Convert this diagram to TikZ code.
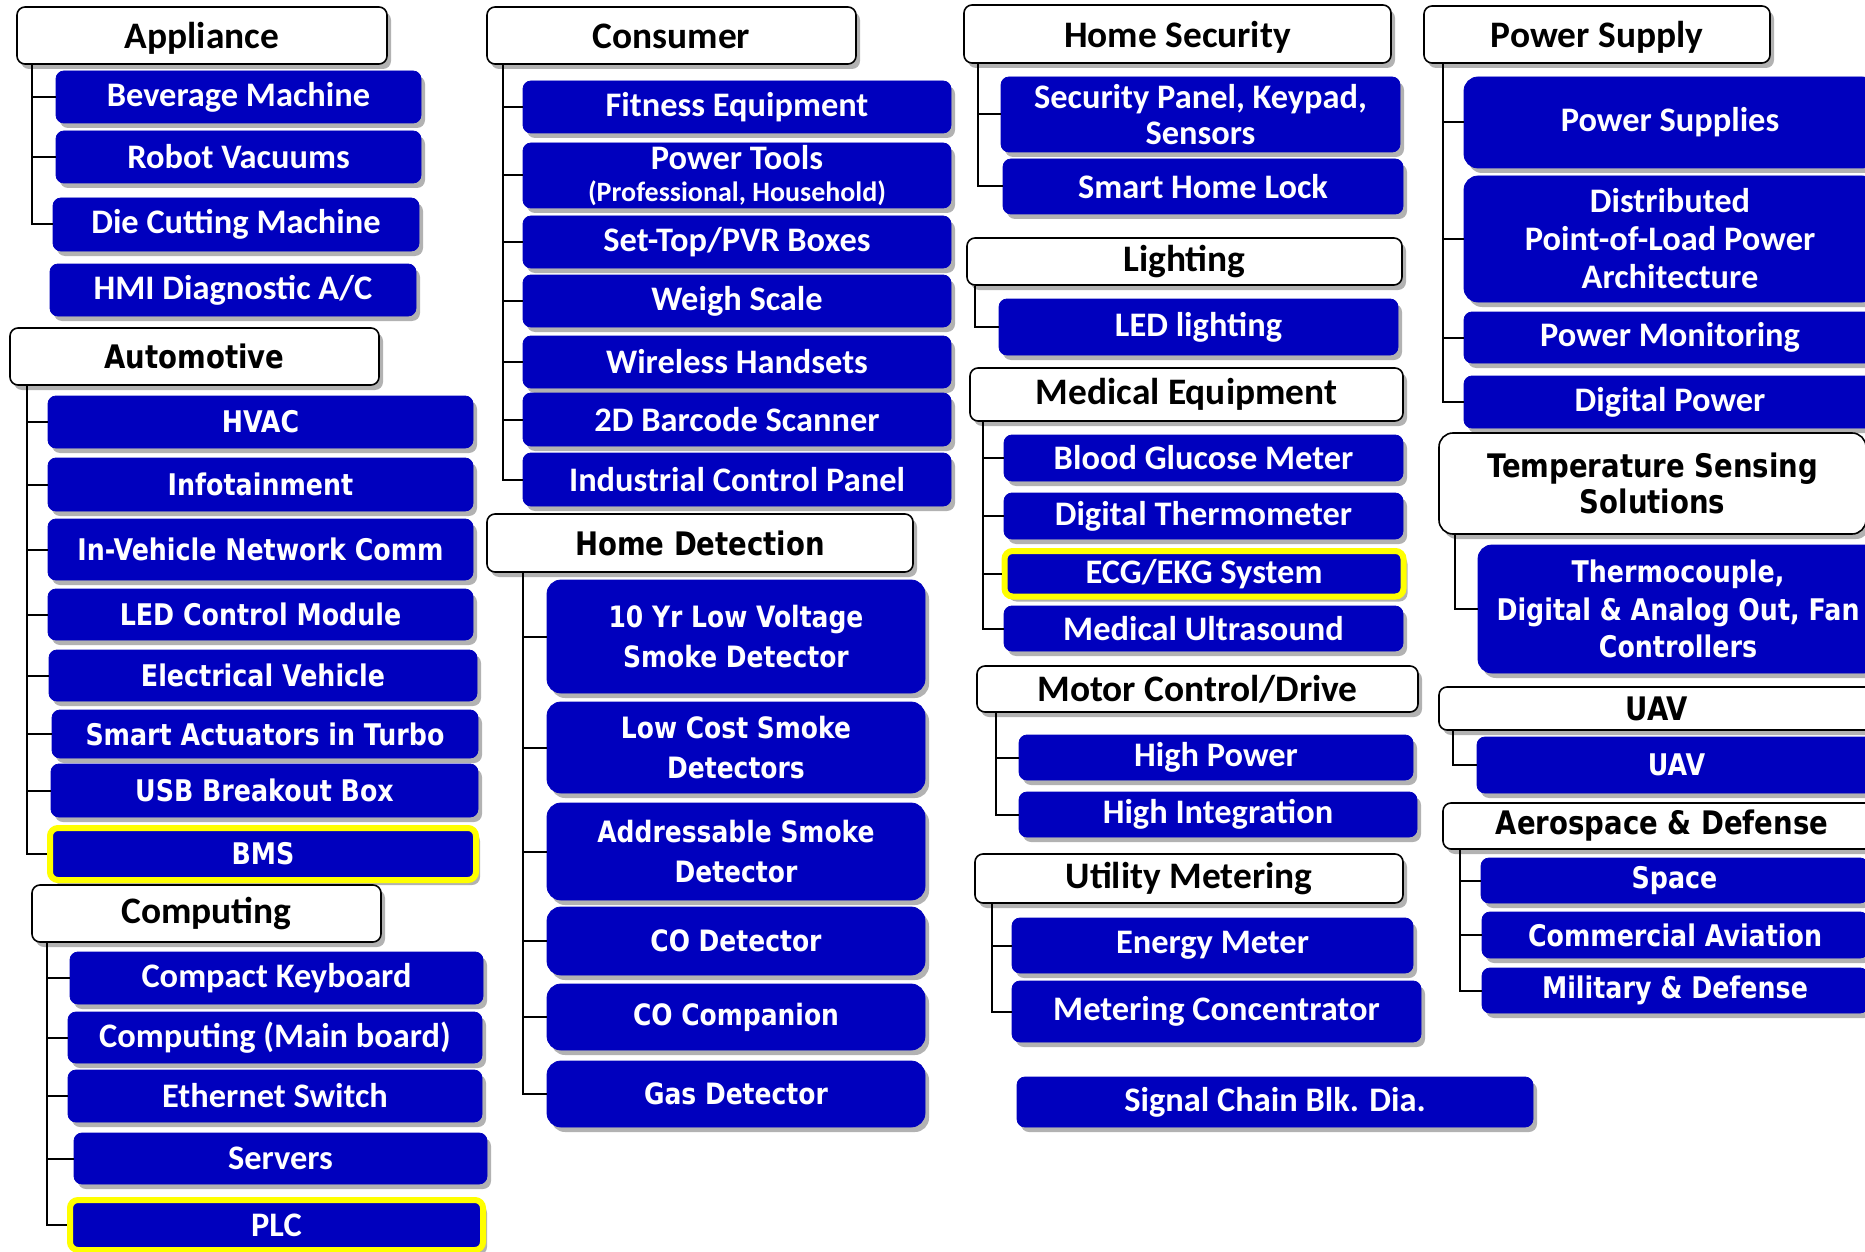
\documentclass[tikz,border=0pt]{standalone}
\usepackage{fontspec}
\setmainfont{Carlito}
\newfontfamily\wfont[FakeStretch=0.85]{DejaVu Sans}
\usepackage{tikz}
\usetikzlibrary{shadows}
\definecolor{ItemBlue}{RGB}{0,0,190}
\definecolor{MarkYellow}{RGB}{255,255,0}
\tikzset{
  slot/.style n args={4}{at={({(#1+#3)/2},{(#2+#4)/2})},
              minimum width={(#3-#1)*0.5pt}, minimum height={(#4-#2)*0.5pt}},
  shade/.style={drop shadow={shadow xshift=2pt, shadow yshift=-2.5pt, opacity=0.3, fill=black}},
  cat/.style={draw=black, line width=0.8pt, fill=white, rounded corners=4pt, inner sep=0pt,
              align=center, text=black, font=\bfseries\fontsize{18.7}{20}\selectfont, shade},
  topcat/.style={cat, text height=16.8pt, text depth=3.7pt},
  wcat/.style={cat, font=\wfont\bfseries\fontsize{16.2}{18}\selectfont},
  item/.style={draw=ItemBlue, fill=ItemBlue, rounded corners=4pt, inner sep=0pt,
               align=center, text=white, font=\bfseries\fontsize{17.2}{18}\selectfont, shade},
  witem/.style={item, font=\wfont\bfseries\fontsize{14.9}{18.7}\selectfont},
  hditem/.style={item, rounded corners=7pt, font=\wfont\bfseries\fontsize{14.7}{20.4}\selectfont},
  hot/.style={draw=MarkYellow, line width=3pt},
  tree/.style={line width=1pt, black}
}

\begin{document}
\begin{tikzpicture}[x=0.5pt, y=-0.5pt]
\fill[white] (0,0) rectangle (1865,1252);
\useasboundingbox (0,0) rectangle (1865,1252);

\node (app) [topcat, slot={17}{7}{387}{64}] {Appliance};
\node (bev) [item, slot={56}{71}{421}{123}] {Beverage Machine};
\node (rob) [item, slot={56}{131}{421}{183}] {Robot Vacuums};
\node (die) [item, slot={53}{198}{419}{251}] {Die Cutting Machine};
\node (hmi) [item, slot={50}{264}{416}{316}] {HMI Diagnostic A/C};

\node (aut) [wcat, slot={10}{328}{379}{385}] {Automotive};
\node (hvac) [witem, slot={48}{396}{473}{448}] {HVAC};
\node (info) [witem, slot={48}{458}{473}{511}] {Infotainment};
\node (ivn) [witem, slot={48}{519}{473}{580}] {In-Vehicle Network Comm};
\node (ledc) [witem, slot={48}{589}{473}{640}] {LED Control Module};
\node (ev) [witem, slot={49}{650}{477}{701}] {Electrical Vehicle};
\node (sat) [witem, slot={52}{710}{478}{758}] {Smart Actuators in Turbo};
\node (usb) [witem, slot={51}{764}{478}{817}] {USB Breakout Box};
\node (bms) [witem, hot, slot={50}{828}{476}{880}] {BMS};

\node (cmp) [cat, slot={32}{885}{381}{942}] {Computing};
\node (kbd) [item, slot={70}{952}{483}{1004}] {Compact Keyboard};
\node (mainb) [item, slot={68}{1012}{482}{1063}] {Computing (Main board)};
\node (eth) [item, slot={68}{1070}{482}{1122}] {Ethernet Switch};
\node (srv) [item, slot={74}{1133}{487}{1184}] {Servers};
\node (plc) [item, hot, slot={70}{1200}{483}{1250}] {PLC};

\node (con) [topcat, slot={487}{7}{856}{64}] {Consumer};
\node (fit) [item, slot={523}{81}{951}{133}] {Fitness Equipment};
\node (ptl) [item, slot={523}{143}{951}{208}, font=\bfseries\fontsize{17.2}{16}\selectfont]
  {Power Tools\\{\fontsize{14}{16}\selectfont(Professional, Household)}};
\node (stb) [item, slot={523}{216}{951}{268}] {Set-Top/PVR Boxes};
\node (wgh) [item, slot={523}{275}{951}{327}] {Weigh Scale};
\node (wls) [item, slot={523}{336}{951}{388}] {Wireless Handsets};
\node (bar) [item, slot={523}{393}{951}{446}] {2D Barcode Scanner};
\node (icp) [item, slot={523}{453}{951}{506}] {Industrial Control Panel};

\node (hd) [wcat, slot={487}{514}{913}{572}] {Home Detection};
\node (smk) [hditem, slot={547}{580}{925}{693}] {10 Yr Low Voltage\\Smoke Detector};
\node (lcs) [hditem, slot={547}{702}{925}{793}] {Low Cost Smoke\\Detectors};
\node (asd) [hditem, slot={547}{803}{925}{900}] {Addressable Smoke\\Detector};
\node (cod) [hditem, slot={547}{907}{925}{975}] {CO Detector};
\node (coc) [hditem, slot={547}{984}{925}{1050}] {CO Companion};
\node (gas) [hditem, slot={547}{1061}{925}{1127}] {Gas Detector};

\node (hs) [topcat, slot={964}{5}{1391}{63}] {Home Security};
\node (spk) [item, slot={1001}{77}{1400}{152}] {Security Panel, Keypad,\\Sensors};
\node (lock) [item, slot={1003}{159}{1403}{214}] {Smart Home Lock};
\node (lgt) [cat, slot={967}{238}{1402}{285}] {Lighting};
\node (led) [item, slot={999}{299}{1398}{355}] {LED lighting};
\node (med) [cat, slot={970}{368}{1403}{421}] {Medical Equipment};
\node (bgm) [item, slot={1004}{435}{1403}{481}] {Blood Glucose Meter};
\node (dth) [item, slot={1004}{493}{1403}{539}] {Digital Thermometer};
\node (ecg) [item, hot, slot={1004.5}{551}{1403.5}{596.5}] {ECG/EKG System};
\node (mus) [item, slot={1004}{606}{1403}{651}] {Medical Ultrasound};
\node (mot) [cat, slot={977}{666}{1418}{712}] {Motor Control/Drive};
\node (hpw) [item, slot={1019}{735}{1413}{780}] {High Power};
\node (hin) [item, slot={1019}{792}{1417}{837}] {High Integration};
\node (utl) [cat, slot={975}{854}{1403}{903}] {Utility Metering};
\node (enm) [item, slot={1012}{918}{1413}{973}] {Energy Meter};
\node (mcn) [item, slot={1012}{981}{1421}{1042}] {Metering Concentrator};
\node (scb) [item, slot={1017}{1077}{1533}{1127}] {Signal Chain Blk. Dia.};

\node (ps) [topcat, slot={1424}{6}{1770}{63}] {Power Supply};
\node (pss) [item, rounded corners=7pt, slot={1464}{77}{1876}{168}] {Power Supplies};
\node (dpl) [item, rounded corners=7pt, slot={1464}{176}{1876}{302}, font=\bfseries\fontsize{17.2}{19}\selectfont]
  {Distributed\\Point-of-Load Power\\Architecture};
\node (pmo) [item, slot={1464}{312}{1876}{363}] {Power Monitoring};
\node (dpw) [item, slot={1464}{376}{1876}{428}] {Digital Power};
\node (tss) [wcat, rounded corners=7pt, slot={1439}{433}{1866}{534}] {Temperature Sensing\\Solutions};
\node (thc) [witem, rounded corners=7pt, slot={1478}{545}{1878}{673}] {Thermocouple,\\Digital \& Analog Out, Fan\\Controllers};
\node (uavh) [wcat, slot={1439}{687}{1875}{730}] {UAV};
\node (uav) [witem, slot={1477}{737}{1876}{793}] {UAV};
\node (aero) [wcat, slot={1443}{803}{1881}{849}] {Aerospace \& Defense};
\node (spc) [witem, slot={1481}{858}{1868}{903}] {Space};
\node (cav) [witem, slot={1482}{912}{1868}{958}] {Commercial Aviation};
\node (mil) [witem, slot={1482}{968}{1868}{1013}] {Military \& Defense};

\coordinate (appT) at ([xshift=8pt]app.south west);
\coordinate (autT) at ([xshift=9pt]aut.south west);
\coordinate (cmpT) at ([xshift=8pt]cmp.south west);
\coordinate (conT) at ([xshift=8.5pt]con.south west);
\coordinate (hdT) at ([xshift=18.5pt]hd.south west);
\coordinate (hsT) at ([xshift=7.5pt]hs.south west);
\coordinate (lgtT) at ([xshift=4.5pt]lgt.south west);
\coordinate (medT) at ([xshift=7pt]med.south west);
\coordinate (motT) at ([xshift=10pt]mot.south west);
\coordinate (utlT) at ([xshift=9pt]utl.south west);
\coordinate (psT) at ([xshift=10pt]ps.south west);
\coordinate (tssT) at ([xshift=8.5pt]tss.south west);
\coordinate (uavT) at ([xshift=7.5pt]uavh.south west);
\coordinate (aeroT) at ([xshift=9pt]aero.south west);

\foreach \c in {bev,rob,die} \draw[tree] (appT) |- (\c.west);
\foreach \c in {hvac,info,ivn,ledc,ev,sat,usb,bms} \draw[tree] (autT) |- (\c.west);
\foreach \c in {kbd,mainb,eth,srv,plc} \draw[tree] (cmpT) |- (\c.west);
\foreach \c in {fit,ptl,stb,wgh,wls,bar,icp} \draw[tree] (conT) |- (\c.west);
\foreach \c in {smk,lcs,asd,cod,coc,gas} \draw[tree] (hdT) |- (\c.west);
\foreach \c in {spk,lock} \draw[tree] (hsT) |- (\c.west);
\draw[tree] (lgtT) |- (led.west);
\foreach \c in {bgm,dth,ecg,mus} \draw[tree] (medT) |- (\c.west);
\foreach \c in {hpw,hin} \draw[tree] (motT) |- (\c.west);
\foreach \c in {enm,mcn} \draw[tree] (utlT) |- (\c.west);
\foreach \c in {pss,dpl,pmo,dpw} \draw[tree] (psT) |- (\c.west);
\draw[tree] (tssT) |- (thc.west);
\draw[tree] (uavT) |- (uav.west);
\foreach \c in {spc,cav,mil} \draw[tree] (aeroT) |- (\c.west);
\end{tikzpicture}
\end{document}
